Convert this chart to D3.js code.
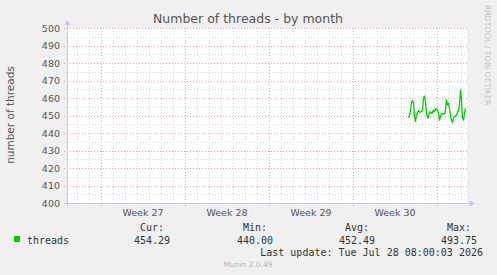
<!DOCTYPE html>
<meta charset='utf-8'>
<html>
<head>
    <title>Number of threads - by month</title>
    <script src='https://d3js.org/d3.v7.min.js'></script>
    <style>
        html, body { margin: 0; padding: 0; background: #f0f0f0; }
        svg { display: block; }
        .mono { font-family: 'DejaVu Sans Mono', monospace; font-size: 10px; fill: #333; }
    </style>
</head>
<body>
<script>
    // data
    const startTime = new Date(2026, 6, 24, 14, 0);
    const hourOffsets = [0, 2, 4, 7, 9, 11, 13, 15, 17, 21, 24, 27, 29, 31, 33, 35, 37, 40, 43, 45,
        48, 51, 53, 56, 59, 61, 63, 65, 67, 71, 74, 77, 79, 81, 84, 86, 89, 91, 94, 97,
        101, 103, 105, 107, 109, 111, 113, 115];
    const threadValues = [449.3, 449.0, 451.2, 457.3, 458.5, 457.3, 449.3, 446.5, 450.3, 452.8,
        451.8, 452.2, 453.1, 459.8, 461.1, 457.9, 451.2, 448.4, 452.2, 451.8,
        451.2, 453.1, 452.2, 454.1, 453.1, 451.2, 447.4, 449.7, 451.2, 450.7,
        451.2, 458.9, 456.0, 457.0, 452.2, 448.4, 445.9, 449.0, 449.3, 450.3,
        453.1, 456.0, 464.6, 458.9, 448.4, 447.4, 451.2, 454.1];
    const yTicks = [400, 410, 420, 430, 440, 450, 460, 470, 480, 490, 500];
    const weekLabels = ['Week 27', 'Week 28', 'Week 29', 'Week 30'];
    const weekStarts = [new Date(2026, 5, 29), new Date(2026, 6, 6), new Date(2026, 6, 13), new Date(2026, 6, 20), new Date(2026, 6, 27)];
    const statNames = ['Cur:', 'Min:', 'Avg:', 'Max:'];
    const statValues = ['454.29', '440.00', '452.49', '493.75'];

    const width = 497;
    const height = 275;
    const plotLeft = 67, plotRight = 467, plotTop = 28, plotBottom = 203;

    const svg = d3.select('body').append('svg')
        .attr('width', width)
        .attr('height', height);

    svg.append('rect').attr('width', width).attr('height', height).attr('fill', '#f0f0f0');

    // scales
    const x = d3.scaleTime()
        .domain([new Date(2026, 5, 26, 4, 0), new Date(2026, 6, 29, 12, 0)])
        .range([plotLeft, plotRight]);
    const y = d3.scaleLinear().domain([400, 500]).range([plotBottom, plotTop]);

    svg.append('rect')
        .attr('x', plotLeft).attr('y', plotTop)
        .attr('width', plotRight - plotLeft).attr('height', plotBottom - plotTop)
        .attr('fill', '#ffffff');

    // grid
    const grid = svg.append('g');
    const days = d3.timeDay.range(x.domain()[0], x.domain()[1]).filter(d => x(d) > plotLeft + 1);
    grid.selectAll('line.vmin').data(days).enter().append('line')
        .attr('x1', d => Math.round(x(d)) + 0.5).attr('x2', d => Math.round(x(d)) + 0.5)
        .attr('y1', plotTop).attr('y2', plotBottom + 2)
        .attr('stroke', '#d4d4d4').attr('stroke-dasharray', '1,2');
    const minorY = d3.range(405, 500, 10);
    grid.selectAll('line.hmin').data(minorY).enter().append('line')
        .attr('x1', plotLeft - 2).attr('x2', plotRight)
        .attr('y1', d => Math.round(y(d)) + 0.5).attr('y2', d => Math.round(y(d)) + 0.5)
        .attr('stroke', '#d4d4d4').attr('stroke-dasharray', '1,2');
    grid.selectAll('line.vmaj').data(weekStarts).enter().append('line')
        .attr('x1', d => Math.round(x(d)) + 0.5).attr('x2', d => Math.round(x(d)) + 0.5)
        .attr('y1', plotTop).attr('y2', plotBottom + 3)
        .attr('stroke', '#e8a0a0').attr('stroke-dasharray', '1,2');
    grid.selectAll('line.hmaj').data(yTicks.filter(v => v > 400)).enter().append('line')
        .attr('x1', plotLeft - 3).attr('x2', plotRight)
        .attr('y1', d => Math.round(y(d)) + 0.5).attr('y2', d => Math.round(y(d)) + 0.5)
        .attr('stroke', '#e8a0a0').attr('stroke-dasharray', '1,2');

    // axes lines with arrows
    const axisColor = '#c4c8f4';
    svg.append('line').attr('x1', plotLeft + 0.5).attr('x2', plotLeft + 0.5).attr('y1', plotBottom + 3).attr('y2', plotTop - 5)
        .attr('stroke', axisColor);
    svg.append('line').attr('x1', plotLeft - 3).attr('x2', plotRight + 4).attr('y1', plotBottom + 0.5).attr('y2', plotBottom + 0.5)
        .attr('stroke', axisColor);
    svg.append('path').attr('d', `M${plotLeft - 2.5},${plotTop - 3} L${plotLeft + 3.5},${plotTop - 3} L${plotLeft + 0.5},${plotTop - 8} Z`).attr('fill', axisColor);
    svg.append('path').attr('d', `M${plotRight + 3},${plotBottom - 2.5} L${plotRight + 3},${plotBottom + 3.5} L${plotRight + 8},${plotBottom + 0.5} Z`).attr('fill', axisColor);

    // y tick labels
    svg.selectAll('text.ytick').data(yTicks).enter().append('text')
        .attr('x', plotLeft - 7).attr('y', d => y(d) + 3.5)
        .attr('text-anchor', 'end')
        .style('font-family', 'DejaVu Sans').style('font-size', '9.5px').style('fill', '#555')
        .text(d => d);

    // week labels
    svg.selectAll('text.week').data(weekLabels).enter().append('text')
        .attr('x', (d, i) => (x(weekStarts[i]) + x(weekStarts[i + 1])) / 2)
        .attr('y', 216)
        .attr('text-anchor', 'middle')
        .style('font-family', 'DejaVu Sans').style('font-size', '9.5px').style('fill', '#555')
        .text(d => d);

    // y axis title
    svg.append('text')
        .attr('transform', 'translate(14,115) rotate(-90)')
        .attr('text-anchor', 'middle')
        .style('font-family', 'DejaVu Sans').style('font-size', '10.5px').style('fill', '#555')
        .text('number of threads');

    // title
    svg.append('text')
        .attr('x', 248).attr('y', 23)
        .attr('text-anchor', 'middle')
        .style('font-family', 'DejaVu Sans').style('font-size', '12.5px').style('fill', '#555')
        .text('Number of threads - by month');

    // side watermark
    svg.append('text')
        .attr('transform', 'translate(485,5) rotate(90)')
        .style('font-family', 'DejaVu Sans').style('font-size', '7.8px').style('fill', '#c4c4c4')
        .text('RRDTOOL / TOBI OETIKER');

    // data line
    const points = hourOffsets.map((h, i) => ({ t: d3.timeHour.offset(startTime, h), v: threadValues[i] }));
    const line = d3.line().x(d => x(d.t)).y(d => y(d.v));
    svg.append('path').datum(points)
        .attr('d', line)
        .attr('fill', 'none')
        .attr('stroke', '#00cc00')
        .attr('stroke-width', 1.3)
        .attr('stroke-linejoin', 'round');

    // legend
    svg.append('rect').attr('x', 14).attr('y', 236).attr('width', 6).attr('height', 6).attr('fill', '#00cc00');
    svg.append('text').attr('class', 'mono').attr('x', 27).attr('y', 243.5).text('threads');
    const statX = [152, 255, 357, 459];
    svg.selectAll('text.statn').data(statNames).enter().append('text')
        .attr('class', 'mono').attr('x', (d, i) => statX[i]).attr('y', 231)
        .attr('text-anchor', 'middle').text(d => d);
    svg.selectAll('text.statv').data(statValues).enter().append('text')
        .attr('class', 'mono').attr('x', (d, i) => statX[i]).attr('y', 243.5)
        .attr('text-anchor', 'middle').text(d => d);
    svg.append('text').attr('class', 'mono').attr('x', 483).attr('y', 255.5)
        .attr('text-anchor', 'end').text('Last update: Tue Jul 28 08:00:03 2026');
    svg.append('text')
        .attr('x', 248).attr('y', 267)
        .attr('text-anchor', 'middle')
        .style('font-family', 'DejaVu Sans').style('font-size', '7.5px').style('fill', '#b8b8b8')
        .text('Munin 2.0.49');
</script>
</body>
</html>
